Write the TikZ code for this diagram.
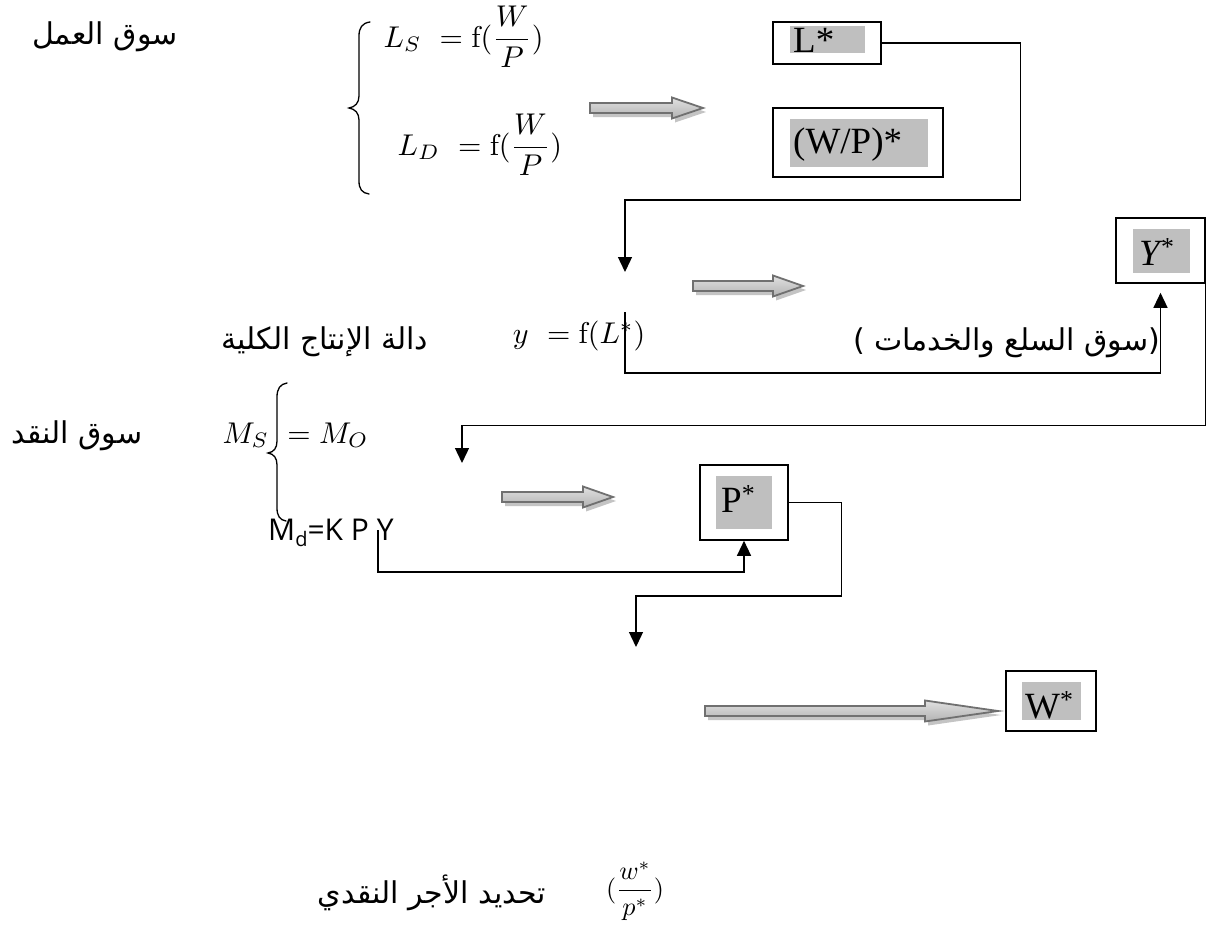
\documentclass[tikz,border=0pt]{standalone}
\usepackage{fontspec}
\usepackage{amsmath}
\usetikzlibrary{arrows.meta}
\TeXXeTstate=1
\newfontfamily\arabicfont[Script=Arabic]{DejaVu Sans}
\newfontfamily\tnr{Liberation Serif}
\newfontfamily\osans{Open Sans}
\definecolor{hlgray}{HTML}{BFBFBF}
\definecolor{arrowedge}{HTML}{707070}
\definecolor{arrowshade}{HTML}{C4C4C4}

\tikzset{
  outerbox/.style={draw=black, line width=1.6pt, fill=white, inner sep=0pt},
  hlbox/.style={fill=hlgray, draw=none, inner sep=0pt},
  boxtext/.style={font={\tnr\fontsize{37}{40}\selectfont}, inner sep=0pt},
  artext/.style={font={\arabicfont\fontsize{30}{34}\selectfont}, inner sep=0pt},
  eqtext/.style={inner sep=0pt, scale=3.0},
  sanstext/.style={font={\osans\fontsize{30}{34}\selectfont}, inner sep=0pt},
  conn/.style={line width=1.3pt, draw=black},
  arrowend/.style={-{Triangle[length=15pt,width=14pt]}},
  bracepath/.style={line width=1.3pt, line cap=round},
  arrowbody/.style={draw=arrowedge, line width=1.8pt, top color=black!12,
    middle color=white, bottom color=black!30, line join=miter},
  arrowshadow/.style={fill=arrowshade},
}

% hollow block arrow: tail x, tip x, axis y, x where the head begins
\newcommand{\fatarrow}[4]{%
  \begin{scope}[shift={(3,4)}]
    \fill[arrowshadow] (#1,#3-5) -- (#4,#3-5) -- (#4,#3-10.5) -- (#2,#3)
      -- (#4,#3+10.5) -- (#4,#3+5) -- (#1,#3+5) -- cycle;
  \end{scope}
  \draw[arrowbody] (#1,#3-5) -- (#4,#3-5) -- (#4,#3-10.5) -- (#2,#3)
    -- (#4,#3+10.5) -- (#4,#3+5) -- (#1,#3+5) -- cycle;
}

\begin{document}
\begin{tikzpicture}[x=1pt, y=-1pt]
\useasboundingbox (0,0) rectangle (1210,927);
\fill[white] (0,0) rectangle (1210,927);

% ---------- labour market ----------
\node[artext] (labour) at (105,37) {\beginR سوق العمل\endR};
\draw[bracepath] (370,22) .. controls (362,23) and (359,28) .. (359,36) -- (359,96)
  .. controls (359,103) and (355,107) .. (349,108)
  .. controls (355,109) and (359,113) .. (359,120) -- (359,181)
  .. controls (359,189) and (362,193) .. (369,194);
\node[eqtext, anchor=base west] (LS) at (383,47) {$L_S\ =\mathrm{f}(\dfrac{W}{P})$};
\node[eqtext, anchor=base west] (LD) at (397,155) {$L_D\ =\mathrm{f}(\dfrac{W}{P})$};
\fatarrow{590}{703}{108}{672}

\node[outerbox, minimum width=108pt, minimum height=42pt] (Lstar) at (827,43) {};
\node[hlbox, minimum width=75pt, minimum height=27pt] (Lhl) at (827.5,39.5) {};
\node[boxtext, anchor=base west] (Ltext) at (793,52) {L*};

\node[outerbox, minimum width=170pt, minimum height=69pt] (WPstar) at (858,142.5) {};
\node[hlbox, minimum width=138pt, minimum height=48pt] (WPhl) at (859,143) {};
\node[boxtext, anchor=base west] (WPtext) at (793,153) {(W/P)*};

% ---------- production ----------
\node[artext] (prod) at (325,342) {\beginR دالة الإنتاج الكلية\endR};
\node[eqtext, anchor=base east] (yfun) at (646,343) {$y\ = \mathrm{f}(L^{*})$};
\fatarrow{693}{803}{286}{773}

\node[outerbox, minimum width=89pt, minimum height=65pt] (Ystar) at (1160.5,250.5) {};
\node[hlbox, minimum width=57pt, minimum height=44pt] (Yhl) at (1161.5,251) {};
\node[boxtext, anchor=base west] (Ytext) at (1139,265) {\itshape Y\textsuperscript{*}};

\node[artext, anchor=base east] (goods) at (1160,350) {)\ \beginR سوق السلع والخدمات\endR(};

% ---------- money market ----------
\node[artext] (money) at (77,436) {\beginR سوق النقد\endR};
\draw[bracepath] (287,383) .. controls (280,384) and (277,389) .. (277,397) -- (277,441)
  .. controls (277,448) and (274,452) .. (268,453)
  .. controls (274,454) and (277,458) .. (277,465) -- (277,508)
  .. controls (277,516) and (280,520) .. (286,521);
\node[eqtext, anchor=base west] (MS) at (222,443) {$M_S\ = M_O$};
\node[sanstext, anchor=base west] (Md) at (268,540)
  {M\raisebox{-0.22em}{\fontsize{20}{21}\selectfont d}=K P Y};
\fatarrow{502}{613}{497}{583}

\node[outerbox, minimum width=88pt, minimum height=75pt] (Pstar) at (744,502.5) {};
\node[hlbox, minimum width=56pt, minimum height=53pt] (Phl) at (744,502.5) {};
\node[boxtext, anchor=base west] (Ptext) at (721,512) {P\textsuperscript{*}};

% ---------- money wage ----------
\fatarrow{705}{998}{711}{925}
\node[outerbox, minimum width=90pt, minimum height=60pt] (Wstar) at (1051,701) {};
\node[hlbox, minimum width=59pt, minimum height=38pt] (Whl) at (1051.5,701) {};
\node[boxtext, anchor=base west] (Wtext) at (1025,718) {W\textsuperscript{*}};

\node[artext] (wage) at (432,893) {\beginR تحديد الأجر النقدي\endR};
\node[eqtext, scale=0.87] (ratio) at (635,891) {$(\dfrac{w^{*}}{p^{*}})$};

% ---------- connectors ----------
\coordinate (yin) at (625,272);
\coordinate (ytop) at (625,312);
\coordinate (moneyin) at (462,463);
\coordinate (mdy) at (378,530);
\coordinate (wagein) at (636,647);

\draw[conn, arrowend] (Lstar.east) -- ++(139,0) |- (625,200) -- (yin);
\draw[conn, arrowend, shorten >=9pt] (ytop) -- (625,373) -| (Ystar.south);
\draw[conn, arrowend] (Ystar.south east) -- ++(0,142) -| (moneyin);
\draw[conn, arrowend] (mdy) -- (378,572) -| (Pstar.south);
\draw[conn, arrowend] (Pstar.east) -- ++(53,0) |- (636,596) -- (wagein);
\end{tikzpicture}
\end{document}
